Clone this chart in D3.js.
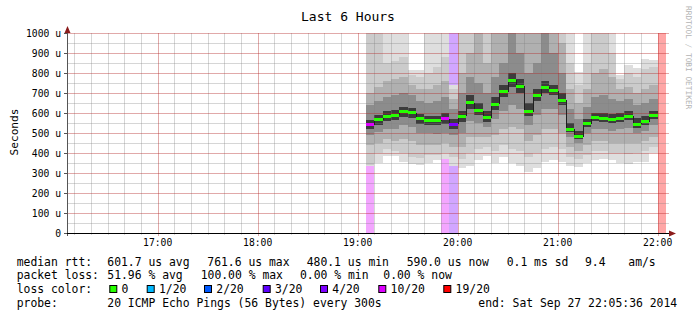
<!DOCTYPE html>
<html>
<head>
<meta charset="utf-8">
<script src="https://cdn.jsdelivr.net/npm/d3@7"></script>
<style>
  html, body { margin: 0; padding: 0; background: #fff; }
  svg { display: block; font-family: "DejaVu Sans Mono", monospace; }
</style>
</head>
<body>
<svg id="chart" width="697" height="321"></svg>
<script>
// 5 minute slots (start time), median rtt in us, lost pings out of 20
const slots = ["19:05","19:10","19:15","19:20","19:25","19:30","19:35","19:40","19:45","19:50","19:55",
  "20:00","20:05","20:10","20:15","20:20","20:25","20:30","20:35","20:40","20:45","20:50","20:55",
  "21:00","21:05","21:10","21:15","21:20","21:25","21:30","21:35","21:40","21:45","21:50","21:55","22:00"];
const medians = [542,567,585,590,607,602,572,562,562,572,543,
  583,652,612,577,643,707,763,733,607,687,728,712,
  665,520,482,547,580,575,570,575,585,545,557,590,null];
const losses = [10,0,0,0,0,0,0,0,0,10,4,
  0,0,0,0,0,0,0,0,0,0,0,0,
  0,0,0,0,0,0,0,0,0,0,0,0,20];

// smoke: ping spread per slot, outer pair first -> inner pair last
const smokeLow = [
  [333,340,440,490,518],[348,400,450,505,540],[385,420,470,520,560],[385,410,460,520,565],
  [357,400,470,540,580],[344,380,460,530,575],[340,375,440,500,545],[348,390,440,500,540],
  [365,390,440,495,540],[372,400,450,500,545],[333,380,430,490,520],
  [323,370,430,500,555],[333,400,480,560,620],[365,420,480,550,590],[385,430,480,530,555],
  [348,410,490,570,615],[380,440,520,610,680],[348,420,530,640,730],[333,410,520,620,700],
  [307,380,460,540,585],[323,400,490,590,660],[357,420,520,620,700],[365,430,520,620,690],
  [357,420,500,590,640],[333,380,430,480,505],[328,370,410,450,470],[348,390,440,500,530],
  [365,410,460,520,560],[372,410,460,520,555],[365,400,450,510,550],[348,400,450,520,555],
  [344,395,450,525,565],[357,400,450,500,525],[357,410,460,510,540],[398,430,480,540,570],
  null];
const smokeHigh = [
  [1100,1100,700,640,565],[1100,1100,730,660,590],[1100,850,760,680,610],[1100,860,770,690,615],
  [1100,880,780,700,630],[815,790,740,690,625],[815,780,720,660,595],[1100,800,720,650,585],
  [1100,830,740,660,585],[1100,880,760,680,600],[740,720,670,620,570],
  [1100,1100,800,700,610],[1100,1100,900,780,690],[1100,1100,1100,750,650],[1100,1100,850,700,610],
  [1100,1100,1100,780,680],[1100,1100,1100,850,740],[1100,1100,1100,1100,800],[1100,1100,1100,900,770],
  [1100,1100,1100,800,650],[1100,1100,1100,850,720],[1100,1100,1100,1000,760],[1100,1100,1100,900,740],
  [1100,1100,950,800,700],[1100,850,720,620,550],[807,740,650,570,510],[1100,850,720,630,570],
  [1100,1100,800,680,600],[1100,1100,820,690,600],[1100,900,780,670,595],[790,770,720,660,600],
  [840,800,730,670,610],[823,780,700,640,575],[868,820,720,650,585],[865,830,740,670,610],
  null];
const smokeGreys = ["#dedede","#cbcbcb","#b0b0b0","#8c8c8c","#3c3c3c"];

const yTicks = [0,100,200,300,400,500,600,700,800,900,1000];
const yMinor = [50,150,250,350,450,550,650,750,850,950];
const lossLevels = [0,1,2,3,4,10,19];
const lossColors = ["#26ff00","#00b8ff","#0059ff","#5e00ff","#7e00ff","#dd00ff","#ff0000"];
const lossLabels = ["0","1/20","2/20","3/20","4/20","10/20","19/20"];

const parse = d3.utcParse("%Y-%m-%d %H:%M:%S");
const day = "2014-09-27 ";
const start = parse(day + "16:05:36"), end = parse(day + "22:05:36");

const svg = d3.select("#chart");
const x = d3.scaleUtc().domain([start, end]).range([67, 667]);
const y = d3.scaleLinear().domain([0, 1000]).range([233, 33]);

function lossColor(n) {
  let c = lossColors[0];
  lossLevels.forEach((lv, i) => { if (n >= lv) c = lossColors[i]; });
  return c;
}

const cols = slots.map((s, i) => {
  const t0 = parse(day + s + ":00");
  return { i, x0: x(t0), x1: x(d3.utcMinute.offset(t0, 5)), med: medians[i], loss: losses[i],
           lo: smokeLow[i], hi: smokeHigh[i] };
});

svg.append("clipPath").attr("id", "plot")
  .append("rect").attr("x", 67).attr("y", 33).attr("width", 600).attr("height", 200);

const g = svg.append("g").attr("clip-path", "url(#plot)").attr("shape-rendering", "crispEdges");

// loss background bars
g.selectAll("rect.loss").data(cols.filter(d => d.loss > 0)).enter()
  .append("rect").attr("class", "loss")
  .attr("x", d => d.x0).attr("width", d => d.x1 - d.x0)
  .attr("y", y(1000)).attr("height", y(0) - y(1000))
  .attr("fill", d => lossColor(d.loss)).attr("fill-opacity", 0.35);

// smoke
cols.filter(d => d.lo).forEach(d => {
  smokeGreys.forEach((c, k) => {
    g.append("rect")
      .attr("x", d.x0).attr("width", d.x1 - d.x0)
      .attr("y", y(d.hi[k])).attr("height", y(d.lo[k]) - y(d.hi[k]))
      .attr("fill", c);
  });
});

// grid on top of the smoke
const px = v => Math.round(v) + 0.5;
const minorX = d3.utcMinute.every(10).range(start, end).filter(t => t.getUTCMinutes() !== 0);
const hours = d3.utcHour.every(1).range(start, end);
let gridPath = "";
minorX.forEach(t => { gridPath += `M${px(x(t))},33V235`; });
yMinor.forEach(v => { gridPath += `M67,${px(y(v))}H669`; });
let majorPath = "";
hours.forEach(t => { majorPath += `M${px(x(t))},33V236`; });
yTicks.filter(v => v > 0).forEach(v => { majorPath += `M67,${px(y(v))}H669`; });
svg.append("path").attr("d", gridPath).attr("fill", "none")
  .attr("stroke", "#808080").attr("stroke-opacity", 0.32).attr("stroke-width", 1);
svg.append("path").attr("d", majorPath).attr("fill", "none")
  .attr("stroke", "#b42828").attr("stroke-opacity", 0.4).attr("stroke-width", 1);

// median step line + loss coloured medians
const med = svg.append("g").attr("shape-rendering", "crispEdges");
cols.forEach((d, i) => {
  const n = cols[i + 1];
  if (d.med != null && n && n.med != null) {
    med.append("line")
      .attr("x1", px(n.x0)).attr("x2", px(n.x0))
      .attr("y1", y(d.med)).attr("y2", y(n.med))
      .attr("stroke", "#202020");
  }
});
med.selectAll("rect.med").data(cols.filter(d => d.med != null)).enter()
  .append("rect").attr("class", "med")
  .attr("x", d => d.x0).attr("width", d => d.x1 - d.x0)
  .attr("y", d => y(d.med) - 1.5).attr("height", 3)
  .attr("fill", d => lossColor(d.loss));

// axes
const ax = svg.append("g").attr("shape-rendering", "crispEdges");
ax.append("line").attr("x1", 67.5).attr("x2", 67.5).attr("y1", 31).attr("y2", 236)
  .attr("stroke", "#555");
ax.append("line").attr("x1", 64).attr("x2", 670).attr("y1", 233.5).attr("y2", 233.5)
  .attr("stroke", "#000");
ax.selectAll("line.yt").data(yTicks).enter().append("line").attr("class", "yt")
  .attr("x1", 64).attr("x2", 67)
  .attr("y1", d => px(y(d))).attr("y2", d => px(y(d)))
  .attr("stroke", "#555");
svg.append("path").attr("d", "M67.5,26 L64.5,33 L70.5,33 Z").attr("fill", "#8b1c1c");
svg.append("path").attr("d", "M676,233.5 L669,230.5 L669,236.5 Z").attr("fill", "#8b1c1c");

svg.selectAll("text.yl").data(yTicks).enter().append("text").attr("class", "yl")
  .attr("x", 61).attr("y", d => y(d) + 3.5)
  .attr("text-anchor", "end").attr("font-size", "9.7px").attr("fill", "#000")
  .text(d => d === 0 ? "0" : d + " u");
svg.selectAll("text.xl").data(hours).enter().append("text").attr("class", "xl")
  .attr("x", d => x(d)).attr("y", 246)
  .attr("text-anchor", "middle").attr("font-size", "9.7px").attr("fill", "#000")
  .text(d => d3.utcFormat("%H:%M")(d));

svg.append("text").attr("transform", "translate(18,132) rotate(-90)")
  .attr("text-anchor", "middle").attr("font-size", "11.2px").text("Seconds");
svg.append("text").attr("x", 348).attr("y", 20.5).attr("text-anchor", "middle")
  .attr("font-size", "13px").text("Last 6 Hours");
svg.append("text").attr("transform", "translate(685.5,6) rotate(90)")
  .attr("font-size", "7.8px").attr("fill", "#b4b4b4").text("RRDTOOL / TOBI OETIKER");

// legend
const legend = svg.append("g").attr("font-size", "11.4px").attr("fill", "#000");
const rows = [
  [265.5, [[16.7, "median rtt:"], [107.3, "601.7 us avg"], [207.3, "761.6 us max"], [306.7, "480.1 us min"],
           [406.7, "590.0 us now"], [506.7, "0.1 ms sd"], [585, "9.4"], [628.3, "am/s"]]],
  [279.3, [[16.7, "packet loss:"], [107.3, "51.96 % avg"], [200.7, "100.00 % max"], [300, "0.00 % min"],
           [383.3, "0.00 % now"]]],
  [293.3, [[16.7, "loss color:"]]],
  [307.3, [[16.7, "probe:"], [107.3, "20 ICMP Echo Pings (56 Bytes) every 300s"],
           [478.3, "end: Sat Sep 27 22:05:36 2014"]]]
];
rows.forEach(([ty, items]) => {
  items.forEach(([tx, s]) => legend.append("text").attr("x", tx).attr("y", ty)
    .attr("xml:space", "preserve").text(s));
});
const swatchX = [109.3, 146.7, 204, 262.7, 320, 378.3, 443.3];
lossLabels.forEach((lab, i) => {
  legend.append("rect").attr("x", swatchX[i] + 0.5).attr("y", 285.5).attr("width", 7).attr("height", 7)
    .attr("fill", lossColors[i]).attr("stroke", "#000").attr("stroke-width", 1);
  legend.append("text").attr("x", swatchX[i] + 12.3).attr("y", 293.3).text(lab);
});
</script>
</body>
</html>
